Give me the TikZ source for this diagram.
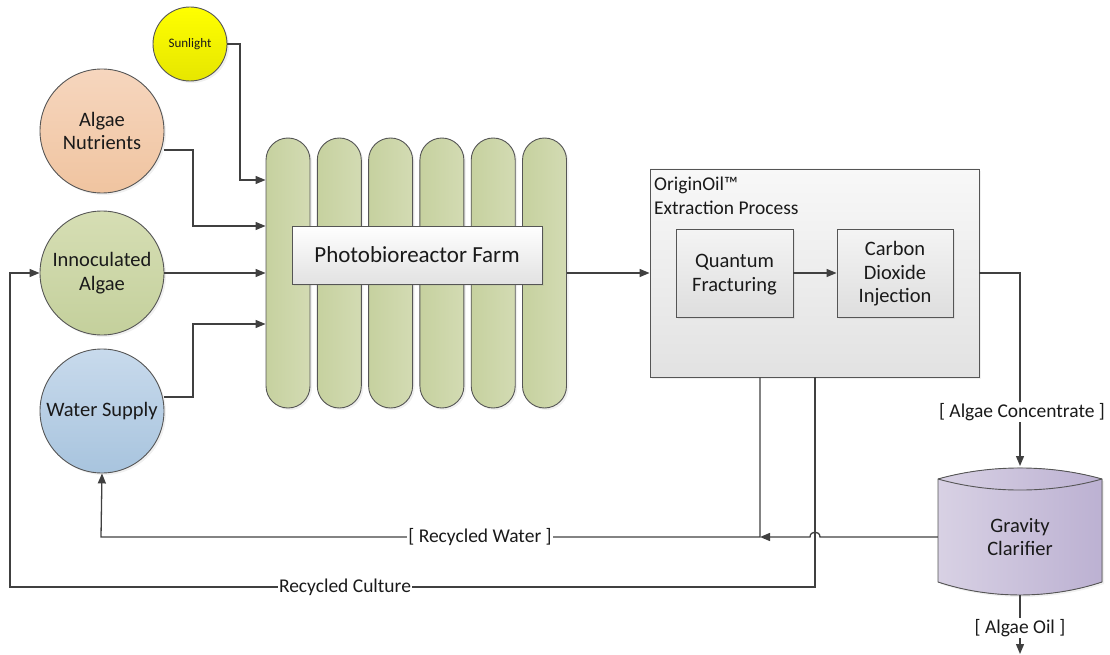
\documentclass[tikz,border=0pt]{standalone}
\usepackage{fontspec}
\setmainfont{Carlito}
\usetikzlibrary{arrows.meta,calc,shadows}
\definecolor{ln}{HTML}{404040}
\definecolor{bd}{HTML}{555555}
\definecolor{txt}{HTML}{1A1A1A}
\definecolor{pillL}{HTML}{C6D19F}
\definecolor{pillR}{HTML}{D3DBB3}
\definecolor{boxB}{HTML}{E2E2E2}
\begin{document}
\begin{tikzpicture}[x=1pt,y=-1pt,
  font=\fontsize{20.5}{23.5}\selectfont, text=txt,
  arr/.style={draw=ln, line width=1.3pt, -{Triangle[length=10pt,width=8pt]}},
  circ/.style={circle, draw=bd, line width=0.9pt, minimum size=124pt, inner sep=0pt, align=center,
     drop shadow={opacity=0.12, shadow xshift=2pt, shadow yshift=-2pt}},
  pill/.style={draw=bd, line width=0.9pt, rounded corners=22pt, minimum width=44pt, minimum height=270pt,
     left color=pillL, right color=pillR,
     drop shadow={opacity=0.12, shadow xshift=2pt, shadow yshift=-2pt}},
  gbox/.style={draw=bd, line width=0.9pt, top color=white, bottom color=boxB, align=center,
     drop shadow={opacity=0.12, shadow xshift=2pt, shadow yshift=-2pt}},
  lbl/.style={fill=white, inner sep=1.5pt, font=\fontsize{19.5}{22}\selectfont}
]
\useasboundingbox (0,0) rectangle (1110,655);

% source circles
\node[circ, minimum size=74pt, top color=yellow, bottom color={rgb,255:red,230;green,230;blue,0},
      font=\fontsize{13}{15}\selectfont] (sun) at (190,44) {Sunlight};
\node[circ, top color={rgb,255:red,246;green,214;blue,190}, bottom color={rgb,255:red,240;green,196;blue,160}] (nut) at (102,131) {Algae\\Nutrients};
\node[circ, top color={rgb,255:red,214;green,222;blue,180}, bottom color={rgb,255:red,196;green,208;blue,156}] (ino) at (102,273) {Innoculated\\Algae};
\node[circ, top color={rgb,255:red,200;green,218;blue,236}, bottom color={rgb,255:red,168;green,196;blue,222}] (ws) at (102,411) {Water Supply};

% photobioreactor pills
\foreach \i in {1,...,6} {
  \node[pill] (pill\i) at ({288+51.3*(\i-1)},273) {};
}
\node[gbox, minimum width=250pt, minimum height=58pt, font=\fontsize{23}{26}\selectfont] (pbr) at (417,255) {Photobioreactor Farm};

% extraction process
\node[gbox, minimum width=329pt, minimum height=208pt, top color={rgb,255:red,248;green,248;blue,248}, bottom color={rgb,255:red,226;green,226;blue,226}] (oo) at (814.5,273) {};
\node[anchor=north west, align=left, inner sep=0pt, font=\fontsize{19.5}{24}\selectfont] (ootitle) at (654,177) {OriginOil™\\Extraction Process};
\node[gbox, minimum width=117pt, minimum height=88pt, top color={rgb,255:red,244;green,244;blue,244}, bottom color={rgb,255:red,222;green,222;blue,222}] (qf) at (734.5,273) {\strut Quantum\\Fracturing};
\node[gbox, minimum width=116pt, minimum height=88pt, top color={rgb,255:red,244;green,244;blue,244}, bottom color={rgb,255:red,222;green,222;blue,222}] (cdi) at (895,273) {\strut Carbon\\Dioxide\\Injection};

% gravity clarifier
\fill[left color={rgb,255:red,216;green,209;blue,228}, right color={rgb,255:red,188;green,177;blue,210},
      drop shadow={opacity=0.12, shadow xshift=2pt, shadow yshift=-2pt}]
  (938,479) .. controls (990,464.3) and (1050,464.3) .. (1102,479) -- (1102,582)
  .. controls (1050,599.3) and (990,599.3) .. (938,582) -- cycle;
\draw[bd, line width=0.9pt]
  (938,479) .. controls (990,464.3) and (1050,464.3) .. (1102,479) -- (1102,582)
  .. controls (1050,599.3) and (990,599.3) .. (938,582) -- cycle;
\draw[bd, line width=0.9pt] (938,479) .. controls (990,493.7) and (1050,493.7) .. (1102,479);
\node[align=center, inner sep=0pt, minimum width=164pt, minimum height=103pt] (gc) at (1020,537) {Gravity\\Clarifier};
\coordinate (gctop) at (1020,466);
\coordinate (gcbot) at (1020,595);
\coordinate (oilend) at (1020,654);

% connectors into farm
\draw[arr] (sun.east) -- (240,44) |- (pill1.west |- 0,180);
\draw[arr] (nut.east |- 0,150) -- (193,150) |- (pill1.west |- 0,226);
\draw[arr] (ino.east) -- (pill1.west);
\draw[arr] (ws.east |- 0,397) -- (193,397) |- (pill1.west |- 0,324);

% farm to extraction
\draw[arr] (pill6.east) -- (oo.west);
\draw[arr] (qf.east) -- (cdi.west);

% algae concentrate
\draw[arr] (oo.east) -- (1020,273) -- (gctop);
\node[lbl] at (1022,412) {[ Algae Concentrate ]};

% algae oil
\draw[arr] (gcbot) -- (oilend);
\node[lbl] at (1020,628) {[ Algae Oil ]};

% recycled water
\coordinate (jw) at (760,537);
\draw[arr] (gc.west) -- (820,537) .. controls (820,530.5) and (810,530.5) .. (810,537) -- (jw);
\draw[arr] (oo.south -| jw) -- (jw) -- (101,537) -- (ws.south);
\node[lbl] at (480,537) {[ Recycled Water ]};

% recycled culture
\draw[arr] (oo.south -| 815,0) -- (815,587) -- (10,587) -- (10,273) -- (ino.west);
\node[lbl, inner sep=1pt] at (345,587) {Recycled Culture};
\end{tikzpicture}
\end{document}
